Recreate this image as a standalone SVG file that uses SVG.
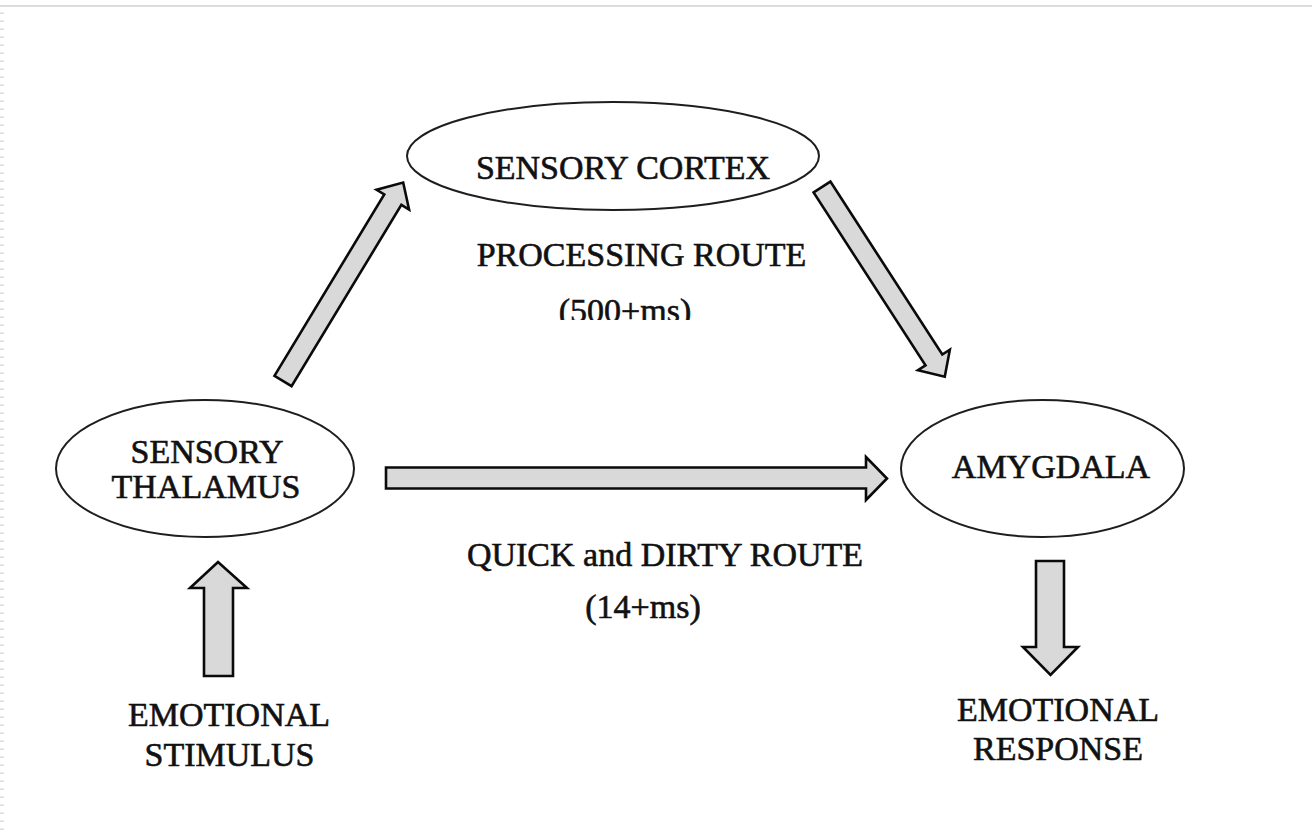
<svg xmlns="http://www.w3.org/2000/svg" width="1312" height="836" viewBox="0 0 1312 836">
  <style>
    .node ellipse { fill: #ffffff; stroke: #1e1e1e; stroke-width: 2; }
    .lbl { font-family: "Liberation Serif", "Times New Roman", serif; font-size: 34px; fill: #111111; stroke: #111111; stroke-width: 0.6; text-anchor: middle; }
    .arrow { fill: #d9d9d9; stroke: #0a0a0a; stroke-width: 2.6; stroke-linejoin: miter; }
  </style>
  <defs>
    <clipPath id="clip500">
      <rect x="500" y="280" width="250" height="40"/>
    </clipPath>
  </defs>
  <rect x="0" y="0" width="1312" height="836" fill="#ffffff"/>
  <line x1="0" y1="6" x2="1312" y2="6" stroke="#dcdcdc" stroke-width="2"/>
  <line x1="2" y1="12.5" x2="2" y2="836" stroke="#dcdcdc" stroke-width="4" stroke-dasharray="1.5 6.5"/>

  <g id="sensory-cortex" class="node">
    <ellipse cx="613" cy="156" rx="206" ry="54"/>
    <text class="lbl" x="623" y="179">SENSORY CORTEX</text>
  </g>
  <g id="sensory-thalamus" class="node">
    <ellipse cx="205" cy="468.5" rx="149" ry="68.5"/>
    <text class="lbl" x="207" y="463">SENSORY</text>
    <text class="lbl" x="206" y="498">THALAMUS</text>
  </g>
  <g id="amygdala" class="node">
    <ellipse cx="1042.5" cy="468.5" rx="141.5" ry="68.5"/>
    <text class="lbl" x="1051" y="478">AMYGDALA</text>
  </g>
  <g id="emotional-stimulus">
    <text class="lbl" x="229" y="726">EMOTIONAL</text>
    <text class="lbl" x="229.5" y="766">STIMULUS</text>
  </g>
  <g id="emotional-response">
    <text class="lbl" x="1058" y="721">EMOTIONAL</text>
    <text class="lbl" x="1058" y="760">RESPONSE</text>
  </g>
  <g id="route-labels">
    <text class="lbl" x="641.5" y="266">PROCESSING ROUTE</text>
    <text class="lbl" x="625" y="322" clip-path="url(#clip500)">(500+ms)</text>
    <text class="lbl" x="665" y="566">QUICK and DIRTY ROUTE</text>
    <text class="lbl" x="643" y="618">(14+ms)</text>
  </g>

  <g id="connectors">
    <!-- thalamus -> cortex -->
    <polygon class="arrow" transform="translate(283 381) rotate(-58.8)" points="0,-10 212,-10 212,-19 232,0 212,19 212,10 0,10"/>
    <!-- cortex -> amygdala -->
    <polygon class="arrow" transform="translate(822 187) rotate(57.1)" points="0,-10 206,-10 206,-19 226,0 206,19 206,10 0,10"/>
    <!-- thalamus -> amygdala -->
    <polygon class="arrow" points="386,467.5 866,467.5 866,457 887,478.5 866,500 866,488.5 386,488.5"/>
    <!-- stimulus -> thalamus -->
    <polygon class="arrow" points="204,676 204,588 190,588 218,562 247,588 233,588 233,676"/>
    <!-- amygdala -> response -->
    <polygon class="arrow" points="1036,561 1064,561 1064,647 1078,647 1050.5,675 1023,647 1036,647"/>
  </g>
</svg>
